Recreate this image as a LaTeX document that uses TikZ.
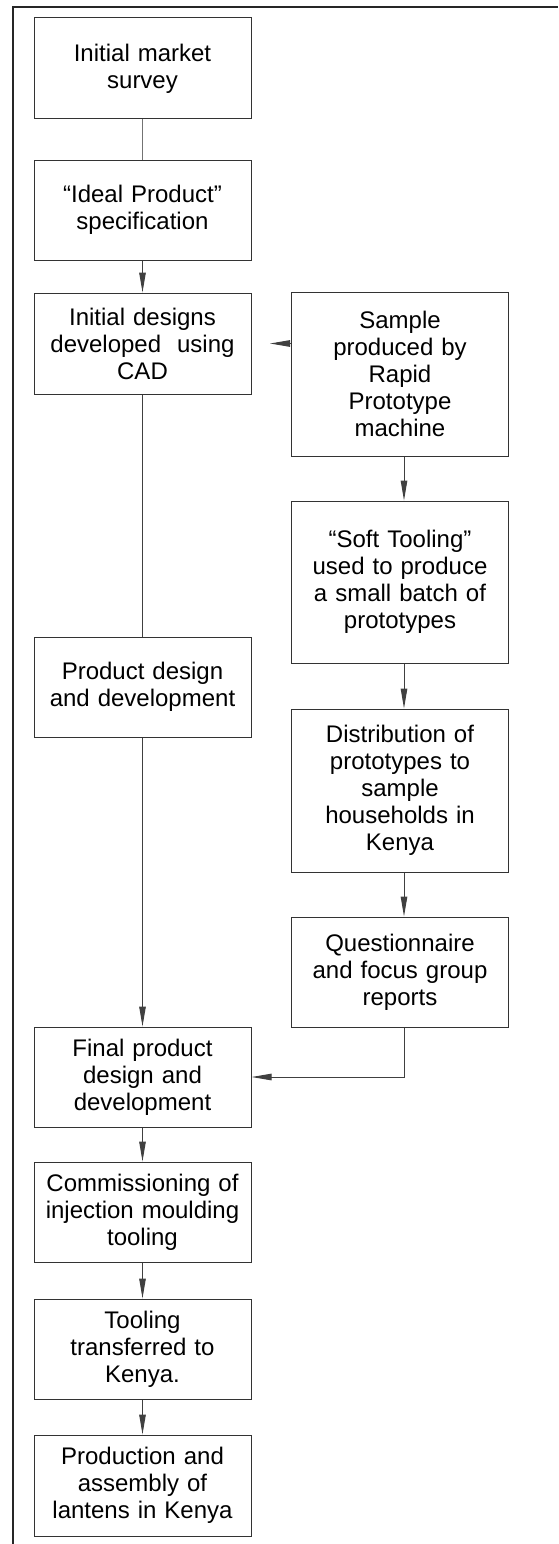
\documentclass[tikz,border=0pt]{standalone}
\usepackage{fontspec}
\setmainfont{Liberation Sans}
\usetikzlibrary{arrows.meta}
\tikzset{
  box/.style={draw=black!80, line width=1pt, rectangle, minimum width=217pt, text width=211pt, align=center, inner sep=0pt, font=\fontsize{24}{27}\selectfont},
  conn/.style={draw=black!75, line width=1pt},
  arr/.style={conn, -{Triangle[length=20pt,width=6.5pt]}},
  frame/.style={draw=black!85, line width=2pt}
}
\begin{document}
\begin{tikzpicture}[x=1pt,y=-1pt]
\useasboundingbox (0,0) rectangle (558,1544);
% frame
\coordinate (fbl) at (13,1544);
\coordinate (ftl) at (13,7);
\coordinate (ftr) at (558,7);
\draw[frame] (fbl) -- (ftl) -- (ftr);
% left column
\node[box, minimum height=101pt] (b1) at (142.5,68.5) {Initial market\\survey};
\node[box, minimum height=100pt] (b2) at (142.5,210) {“Ideal Product”\\specification};
\node[box, minimum height=101pt] (b3) at (142.5,343.5) {Initial designs\\developed\ \ using\\CAD};
\node[box, minimum height=100pt] (pd) at (142.5,687) {Product design\\and development};
\node[box, minimum height=100pt] (fp) at (142.5,1077) {Final product\\design and\\development};
\node[box, minimum height=100pt] (cm) at (142.5,1212) {Commissioning of\\injection moulding\\tooling};
\node[box, minimum height=100pt] (tt) at (142.5,1349) {Tooling\\transferred to\\Kenya.};
\node[box, minimum height=101pt] (pa) at (142.5,1485.5) {Production and\\assembly of\\lantens in Kenya};
% right column
\node[box, minimum height=164pt] (sp) at (400,374) {Sample\\produced by\\Rapid\\Prototype\\machine};
\node[box, minimum height=162pt] (st) at (400,582) {“Soft Tooling”\\used to produce\\a small batch of\\prototypes};
\node[box, minimum height=163pt] (ds) at (400,790.5) {Distribution of\\prototypes to\\sample\\households in\\Kenya};
\node[box, minimum height=110pt] (qn) at (400,972) {Questionnaire\\and focus group\\reports};
\coordinate (rx) at (404,0);
\coordinate (tip) at (270,343.5);
% connectors left
\draw[conn, draw=black!55] (b1) -- (b2);
\draw[arr] (b2) -- (b3);
\draw[conn] (b3) -- (pd);
\draw[arr] (pd) -- (fp);
\draw[arr] (fp) -- (cm);
\draw[arr] (cm) -- (tt);
\draw[arr] (tt) -- (pa);
% connectors right
\draw[arr] (sp.west |- tip) -- (tip);
\draw[arr] (sp.south -| rx) -- (st.north -| rx);
\draw[arr] (st.south -| rx) -- (ds.north -| rx);
\draw[arr] (ds.south -| rx) -- (qn.north -| rx);
\draw[arr] (qn.south -| rx) |- (fp.east);
\end{tikzpicture}
\end{document}
